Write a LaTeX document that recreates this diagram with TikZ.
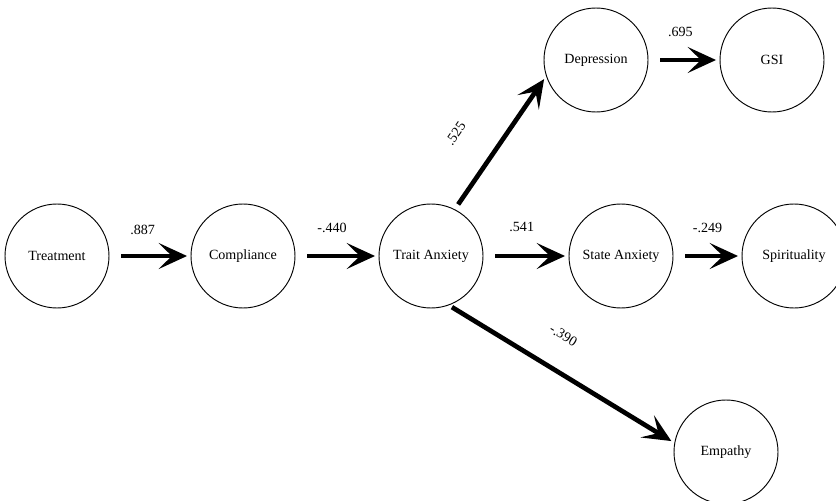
\documentclass[tikz,border=0pt]{standalone}
\usepackage{fontspec}
\setmainfont{Liberation Serif}
\usetikzlibrary{arrows.meta}
\tikzset{latent/.style={draw,circle,line width=0.8pt,minimum size=3.12cm,inner sep=0pt,font=\fontsize{12}{14}\selectfont}}
\tikzset{path line/.style={-{Stealth[length=24pt,width=22pt,inset=11pt]},line width=4pt,shorten <=10pt,shorten >=3pt}}
\tikzset{coef/.style={font=\fontsize{12}{14}\selectfont,inner sep=1pt}}

\begin{document}
\begin{tikzpicture}[x=0.03cm,y=-0.03cm]
      \useasboundingbox (0,0) rectangle (836,500);
      % latent variables
      \node[latent] (treat) at (57,256) {Treatment};
      \node[latent] (comp) at (243,256) {Compliance};
      \node[latent] (trait) at (431,256) {Trait Anxiety};
      \node[latent] (state) at (621,256) {State Anxiety};
      \node[latent] (spirit) at (794,256) {Spirituality};
      \node[latent] (dep) at (596,60) {Depression};
      \node[latent] (gsi) at (772,60) {GSI};
      \node[latent] (emp) at (726,452) {Empathy};
      % paths
      \draw[path line] (treat) -- node[coef,pos=0.41,above=15pt] {.887} (comp);
      \draw[path line] (comp) -- node[coef,pos=0.44,above=17pt] {-.440} (trait);
      \draw[path line] (trait) -- node[coef,pos=0.45,above=18pt] {.541} (state);
      \draw[path line] (state) -- node[coef,pos=0.5,above=17pt] {-.249} (spirit);
      \draw[path line] (dep) -- node[coef,pos=0.45,above=17pt] {.695} (gsi);
      \draw[path line,shorten <=5pt] (trait.63) -- node[coef,sloped,pos=0.39,above=29pt] {.525} (dep.198);
      \draw[path line,shorten <=3pt] (trait.-70) -- node[coef,sloped,pos=0.43,above=22pt] {-.390} (emp.170);
\end{tikzpicture}
\end{document}
